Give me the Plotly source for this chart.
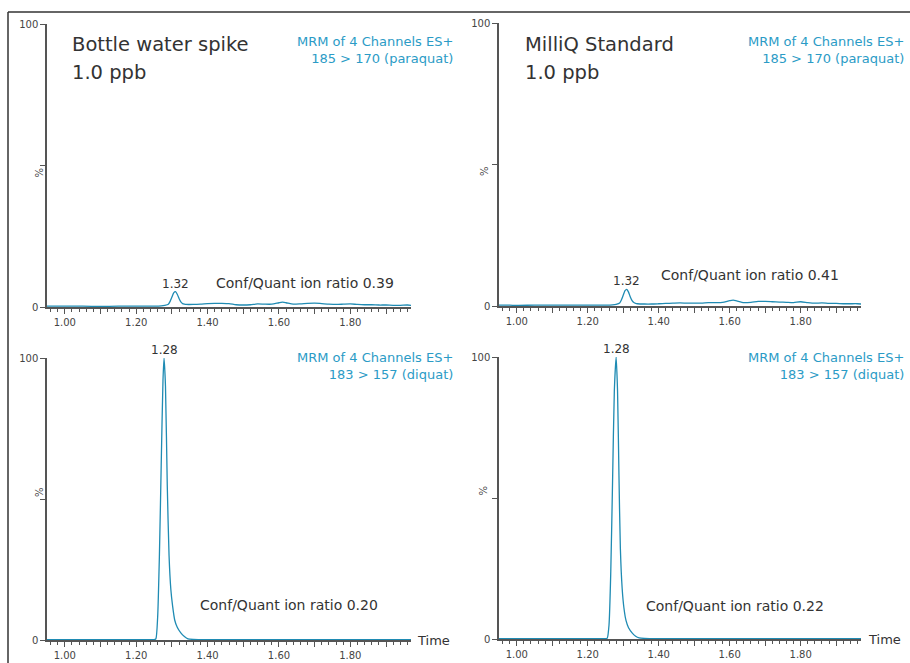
import plotly.graph_objects as go

# ---------------- data ----------------
# paraquat channel (185 > 170), bottle water spike
t_pq_bw = [0.95, 0.98, 1.00, 1.05, 1.10, 1.15, 1.20, 1.25, 1.27, 1.28, 1.29, 1.295, 1.300, 1.305,
           1.310, 1.315, 1.320, 1.325, 1.330, 1.335, 1.34, 1.36, 1.38, 1.40, 1.42, 1.44, 1.46,
           1.48, 1.50, 1.52, 1.54, 1.56, 1.58, 1.60, 1.61, 1.62, 1.64, 1.66, 1.68, 1.70, 1.72,
           1.74, 1.76, 1.78, 1.80, 1.82, 1.84, 1.86, 1.88, 1.90, 1.92, 1.94, 1.96, 1.97]
i_pq_bw = [0.3, 0.3, 0.3, 0.3, 0.2, 0.3, 0.3, 0.3, 0.4, 0.6, 1.0, 2.0, 3.5, 5.0,
           5.4, 4.5, 3.0, 1.8, 1.2, 1.0, 0.9, 0.9, 1.0, 1.2, 1.3, 1.3, 1.2,
           0.8, 0.7, 0.8, 1.1, 1.0, 1.0, 1.5, 1.7, 1.5, 1.0, 1.1, 1.3, 1.4, 1.2,
           1.0, 0.9, 1.0, 1.1, 0.9, 0.8, 0.8, 0.7, 0.7, 0.6, 0.6, 0.7, 0.6]

# paraquat channel, MilliQ standard
t_pq_mq = [0.95, 0.98, 1.00, 1.05, 1.10, 1.15, 1.20, 1.25, 1.27, 1.28, 1.29, 1.295, 1.300, 1.305,
           1.310, 1.315, 1.320, 1.325, 1.330, 1.335, 1.34, 1.36, 1.38, 1.40, 1.42, 1.44, 1.46,
           1.48, 1.50, 1.52, 1.54, 1.56, 1.58, 1.60, 1.61, 1.62, 1.64, 1.66, 1.68, 1.70, 1.72,
           1.74, 1.76, 1.78, 1.80, 1.82, 1.84, 1.86, 1.88, 1.90, 1.92, 1.94, 1.96, 1.97]
i_pq_mq = [0.3, 0.3, 0.2, 0.3, 0.3, 0.3, 0.3, 0.3, 0.4, 0.6, 1.1, 2.2, 3.8, 5.4,
           5.9, 4.9, 3.2, 1.9, 1.2, 0.9, 0.8, 0.7, 0.7, 0.8, 0.9, 1.0, 1.1,
           1.0, 1.0, 1.0, 1.2, 1.2, 1.3, 1.9, 2.1, 1.8, 1.2, 1.3, 1.6, 1.6, 1.5,
           1.4, 1.3, 1.2, 1.5, 1.2, 1.0, 1.1, 0.9, 0.9, 0.8, 0.8, 0.8, 0.7]

# diquat channel (183 > 157), bottle water spike
t_dq_bw = [0.95, 1.00, 1.10, 1.20, 1.24, 1.250, 1.255, 1.260, 1.265, 1.270, 1.275, 1.278,
           1.282, 1.287, 1.292, 1.297, 1.302, 1.308, 1.315, 1.325, 1.335, 1.345, 1.36,
           1.40, 1.50, 1.60, 1.70, 1.80, 1.90, 1.97]
i_dq_bw = [0.1, 0.1, 0.1, 0.1, 0.1, 0.1, 0.4, 8.0, 30.0, 62.0, 92.0, 100.0,
           90.0, 55.0, 30.0, 18.0, 12.0, 7.0, 4.5, 2.5, 1.2, 0.4, 0.2,
           0.1, 0.1, 0.1, 0.1, 0.1, 0.1, 0.1]

# diquat channel, MilliQ standard
t_dq_mq = [0.95, 1.00, 1.10, 1.20, 1.24, 1.250, 1.255, 1.260, 1.265, 1.270, 1.275, 1.280,
           1.284, 1.288, 1.292, 1.297, 1.302, 1.308, 1.315, 1.325, 1.335, 1.345, 1.36,
           1.40, 1.50, 1.60, 1.70, 1.80, 1.90, 1.97]
i_dq_mq = [0.1, 0.1, 0.1, 0.1, 0.1, 0.1, 0.3, 5.0, 24.0, 56.0, 88.0, 100.0,
           88.0, 58.0, 32.0, 18.0, 11.0, 6.5, 4.0, 2.2, 1.0, 0.4, 0.2,
           0.1, 0.1, 0.1, 0.1, 0.1, 0.1, 0.1]

x_tick_vals = [1.0, 1.1, 1.2, 1.3, 1.4, 1.5, 1.6, 1.7, 1.8, 1.9]
x_tick_text = ["1.00", "", "1.20", "", "1.40", "", "1.60", "", "1.80", ""]
y_tick_vals = [0, 50, 100]
y_tick_text = ["0", "", "100"]

panel_titles = ["Bottle water spike", "MilliQ Standard"]
panel_subtitle = "1.0 ppb"
channel_texts = ["MRM of 4 Channels ES+<br>185 > 170 (paraquat)",
                 "MRM of 4 Channels ES+<br>183 > 157 (diquat)"]
ratio_texts = ["Conf/Quant ion ratio 0.39", "Conf/Quant ion ratio 0.41",
               "Conf/Quant ion ratio 0.20", "Conf/Quant ion ratio 0.22"]
peak_labels = ["1.32", "1.32", "1.28", "1.28"]
peak_times = [1.310, 1.310, 1.278, 1.280]
peak_heights = [5.4, 5.9, 100, 100]

# ---------------- styling / layout ----------------
W, H = 910, 663
LINE = "#1f8bb3"
TEAL = "#2b9bc6"
DARK = "#333333"
AXC = "#555555"
FONT = "DejaVu Sans"
XR = [0.95, 1.97]

def px(x):
    return x / W

def py(y):
    return 1 - y / H

# panel pixel boxes: (left, right, top, bottom)
boxes = [(47, 411, 24, 307), (499, 861, 23, 306), (47, 411, 358, 640), (499, 861, 357, 639)]
series = [(t_pq_bw, i_pq_bw), (t_pq_mq, i_pq_mq), (t_dq_bw, i_dq_bw), (t_dq_mq, i_dq_mq)]

fig = go.Figure()
layout = dict(width=W, height=H, margin=dict(l=0, r=0, t=0, b=0, pad=0, autoexpand=False),
              paper_bgcolor="white", plot_bgcolor="white", showlegend=False,
              font=dict(family=FONT, color=DARK))
annotations = []

for k, ((l, r, t, b), (tx, iy)) in enumerate(zip(boxes, series)):
    n = "" if k == 0 else str(k + 1)
    fig.add_trace(go.Scatter(x=tx, y=iy, mode="lines", xaxis="x" + n, yaxis="y" + n,
                             line=dict(color=LINE, width=1.3, shape="spline", smoothing=0.6),
                             hoverinfo="skip"))
    layout["xaxis" + n] = dict(domain=[px(l), px(r)], range=XR, anchor="y" + n,
                               tickmode="array", tickvals=x_tick_vals, ticktext=x_tick_text,
                               ticks="outside", ticklen=5, tickcolor=AXC, tickwidth=1,
                               minor=dict(tickmode="linear", tick0=1.0, dtick=0.02, ticks="outside",
                                          ticklen=3, tickcolor=AXC, tickwidth=1),
                               showline=True, linecolor=AXC, linewidth=1.5, showgrid=False,
                               zeroline=False, automargin=False,
                               tickfont=dict(size=10, color="#444", family=FONT))
    layout["yaxis" + n] = dict(domain=[py(b), py(t)], range=[0, 100], anchor="x" + n,
                               tickmode="array", tickvals=y_tick_vals, ticktext=y_tick_text,
                               ticks="outside", ticklen=5, tickcolor=AXC, tickwidth=1,
                               showline=True, linecolor=AXC, linewidth=1.5, showgrid=False,
                               zeroline=False, automargin=False,
                               tickfont=dict(size=10, color="#444", family=FONT))
    # % label
    annotations.append(dict(x=px(l - 16), y=py((t + b) / 2), xref="paper", yref="paper",
                            text="%", showarrow=False, textangle=90,
                            font=dict(size=10, color="#444")))
    # channel text
    right = 455 if k % 2 == 0 else 906
    top = 32 if k < 2 else 348
    annotations.append(dict(x=px(right), y=py(top), xref="paper", yref="paper",
                            xanchor="right", yanchor="top", align="right",
                            text=channel_texts[k // 2], showarrow=False,
                            font=dict(size=13, color=TEAL)))
    # peak label
    annotations.append(dict(x=peak_times[k], y=peak_heights[k], xref="x" + n, yref="y" + n,
                            text=peak_labels[k], showarrow=False, yanchor="bottom",
                            yshift=-1, font=dict(size=12, color=DARK)))

# titles
for k, (xl) in enumerate([70, 523]):
    annotations.append(dict(x=px(xl), y=py(45), xref="paper", yref="paper",
                            xanchor="left", yanchor="middle", align="left",
                            text=panel_titles[k], showarrow=False,
                            font=dict(size=19.5, color=DARK)))
    annotations.append(dict(x=px(xl), y=py(72), xref="paper", yref="paper",
                            xanchor="left", yanchor="middle", align="left",
                            text=panel_subtitle, showarrow=False,
                            font=dict(size=19.5, color=DARK)))

# ion ratio texts: (left px, centre y px)
ratio_pos = [(214, 283), (659, 275), (198, 605), (644, 606)]
for txt, (xl, yc) in zip(ratio_texts, ratio_pos):
    annotations.append(dict(x=px(xl), y=py(yc), xref="paper", yref="paper",
                            xanchor="left", yanchor="middle", text=txt, showarrow=False,
                            font=dict(size=14, color=DARK)))

# Time labels
for xl, yc in [(415, 640), (866, 639)]:
    annotations.append(dict(x=px(xl), y=py(yc), xref="paper", yref="paper",
                            xanchor="left", yanchor="middle", text="Time", showarrow=False,
                            font=dict(size=13, color=DARK)))

layout["annotations"] = annotations
layout["shapes"] = [
    dict(type="line", xref="paper", yref="paper", x0=px(8), x1=1.0, y0=py(12), y1=py(12),
         line=dict(color="#333", width=1.5)),
    dict(type="line", xref="paper", yref="paper", x0=px(8), x1=px(8), y0=py(12), y1=0,
         line=dict(color="#333", width=1.5)),
]
fig.update_layout(**layout)
fig.write_html("out.html", config={"displayModeBar": False},
               post_script="document.body.style.margin='0px';document.body.style.overflow='hidden';")
